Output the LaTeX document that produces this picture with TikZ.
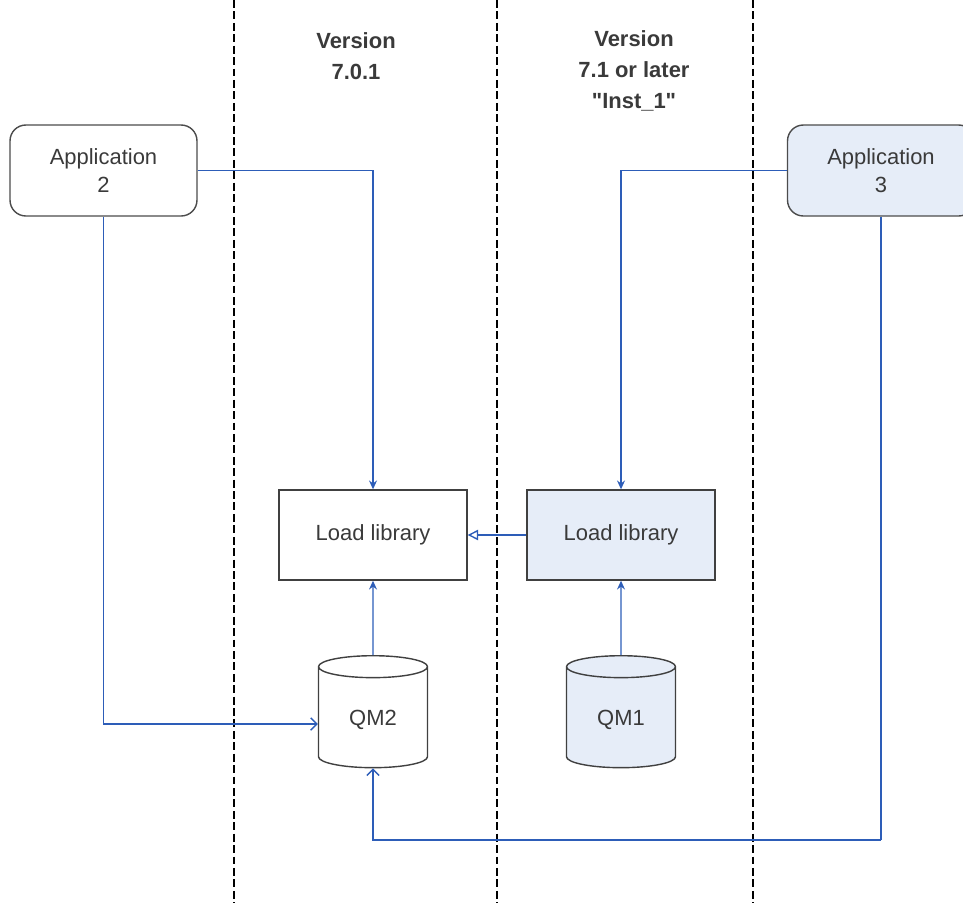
\documentclass[tikz,border=0pt]{standalone}
\usepackage{fontspec}
\setmainfont{Liberation Sans}[Ligatures=TeXOff]
\usetikzlibrary{arrows.meta,shapes.geometric}
\definecolor{linkblue}{HTML}{2D5DB8}
\definecolor{paleblue}{HTML}{E6EDF8}
\definecolor{inkgray}{HTML}{3A3A3A}
\begin{document}
\begin{tikzpicture}[
x = 0.02cm, y = -0.02cm, % one unit per pixel
> = {Stealth[length=5pt,width=4.5pt]}, % arrow head style
font = \fontsize{12.5}{15.9}\selectfont,
text = inkgray,
line width = 0.8pt
]

\tikzstyle{app}=[
draw = black!70,
rounded corners = 9pt,
minimum width = 3.74cm,
minimum height = 1.82cm,
align = center
]
\tikzstyle{lib}=[
draw = black!75,
minimum width = 3.76cm,
minimum height = 1.8cm
]
\tikzstyle{qm}=[
draw = black!75,
cylinder,
shape border rotate = 90,
aspect = 0.37,
minimum width = 2.18cm,
minimum height = 2.24cm
]
\tikzstyle{head}=[
font = \fontsize{12.5}{17.6}\selectfont\bfseries,
align = center
]
\tikzstyle{link}=[draw = linkblue]

\useasboundingbox (0,0) rectangle (963,903);

% version borders
\draw[dashed, dash pattern = on 4.5pt off 2pt, line width = 0.75pt] (234,0) -- (234,903);
\draw[dashed, dash pattern = on 4.5pt off 2pt, line width = 0.75pt] (497,0) -- (497,903);
\draw[dashed, dash pattern = on 4.5pt off 2pt, line width = 0.75pt] (753,0) -- (753,903);

\node[head] (v1) at (356,56) {Version\\7.0.1};
\node[head] (v2) at (634,71) {Version\\7.1 or later\\"Inst\_1"};

\node[app] (app2) at (103.5,170.5) {Application\\2};
\node[app, fill = paleblue] (app3) at (881,170.5) {Application\\3};

\node[lib] (lib1) at (373,535) {Load library};
\node[lib, fill = paleblue] (lib2) at (621,535) {Load library};

\node[qm] (qm2) at (373,720) {QM2};
\node[qm, fill = paleblue] (qm1) at (621,720) {QM1};

\coordinate (bend) at (881,840);

\draw[link, ->] (app2) -| (lib1);
\draw[link, ->] (app3) -| (lib2);
\draw[link, ->] (qm2) -- (lib1);
\draw[link, ->] (qm1) -- (lib2);
\draw[link, -{Triangle[open,length=6pt,width=6pt]}] (lib2) -- (lib1);

\draw[link, -{Straight Barb[length=3.5pt,width=7pt]}] (app2) |- ([yshift=-2.3pt]qm2.west);
\draw[link] (app3) -- (bend);
\draw[link, -{Straight Barb[length=3.5pt,width=7pt]}] (bend) -| (qm2);

\end{tikzpicture}
\end{document}
